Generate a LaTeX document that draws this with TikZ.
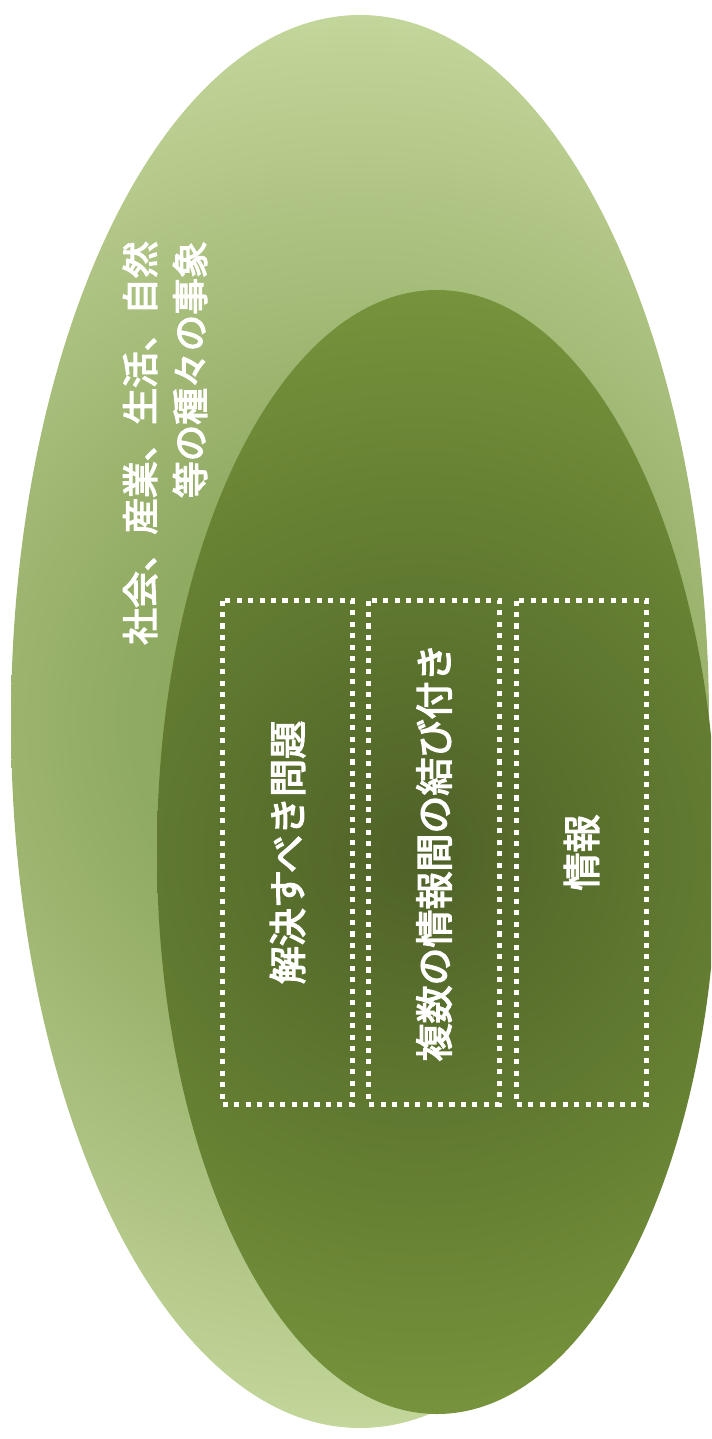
\documentclass[tikz,border=0pt]{standalone}
\usepackage{fontspec}
\newfontfamily\jpfont{Noto Sans CJK JP}[FakeBold=3.5]

\definecolor{outerA}{HTML}{8AA55B}
\definecolor{outerB}{HTML}{8FAA61}
\definecolor{outerC}{HTML}{9DB46F}
\definecolor{outerD}{HTML}{C3D69B}
\definecolor{innerA}{HTML}{4F6228}
\definecolor{innerB}{HTML}{617A30}
\definecolor{innerC}{HTML}{77933C}

\pgfdeclareradialshading{outerglow}{\pgfpoint{0bp}{0bp}}{color(0bp)=(outerA); color(8bp)=(outerB); color(12.5bp)=(outerC); color(25bp)=(outerD); color(50bp)=(outerD)}
\pgfdeclareradialshading{innerglow}{\pgfpoint{0bp}{0bp}}{color(0bp)=(innerA); color(12.5bp)=(innerB); color(25bp)=(innerC); color(50bp)=(innerC)}

\tikzset{
  jptext/.style={text=white, font=\jpfont\fontsize{28.5}{37.5}\selectfont},
  infobox/.style={jptext, draw=white, line width=3.8pt, dash pattern=on 3.8pt off 4.8pt,
    rotate=90, minimum width=378pt, minimum height=98pt, inner sep=0pt},
}

\begin{document}
\begin{tikzpicture}[x=0.75pt,y=-0.75pt]
\useasboundingbox (0,0) rectangle (711,1439);
\clip (0,0) rectangle (711,1439);

% outer field
\begin{scope}
\clip (360,721.5) ellipse [x radius=349, y radius=706.5];
\shade[shading=outerglow] (360,721.5) circle [radius=707];
\end{scope}

% inner field
\begin{scope}
\clip (437,852) ellipse [x radius=280, y radius=562];
\shade[shading=innerglow] (420,852) circle [radius=565];
\end{scope}

\node[jptext, font=\jpfont\fontsize{27.5}{37.5}\selectfont, rotate=90, align=right] (events) at (165,443) {社会、産業、生活、自然\\等の種々の事象};

\node[infobox] (problem) at (287.5,852.5) {解決すべき問題};
\node[infobox] (links) at (434,852.5) {複数の情報間の結び付き};
\node[infobox] (info) at (581.5,852.5) {情報};

\end{tikzpicture}
\end{document}
